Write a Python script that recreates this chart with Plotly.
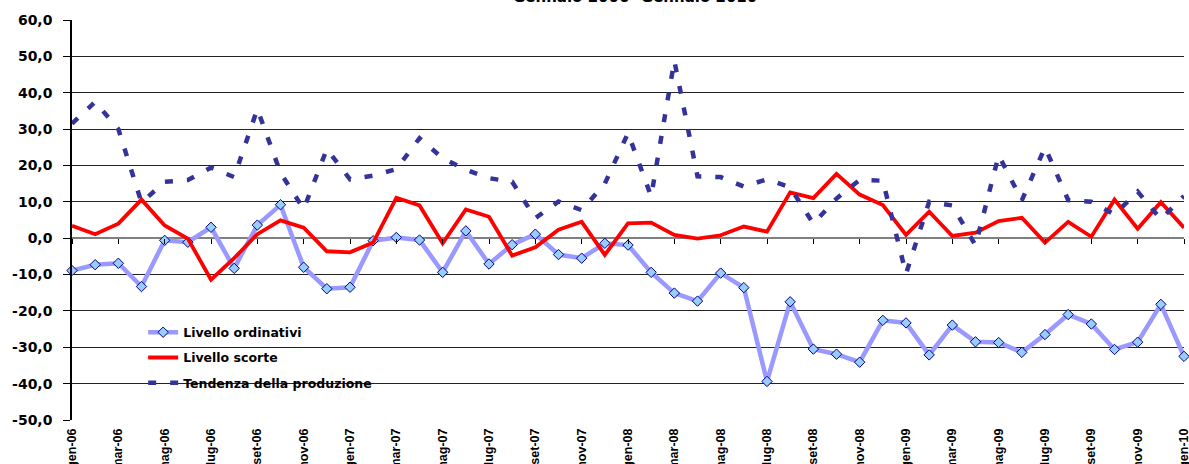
import plotly.graph_objects as go

# ---- data -------------------------------------------------------------
mesi = ["gen", "feb", "mar", "apr", "mag", "giu", "lug", "ago", "set", "ott", "nov", "dic"]
anni = ["06", "07", "08", "09", "10"]
categories = [f"{m}-{a}" for a in anni for m in mesi][:49]   # gen-06 ... gen-10

livello_ordinativi = [-8.9, -7.3, -6.9, -13.3, -0.6, -1.1, 3.0, -8.3, 3.6, 9.2,
                      -8.0, -13.9, -13.5, -0.7, 0.2, -0.5, -9.4, 2.0, -7.1, -1.8,
                      1.1, -4.5, -5.5, -1.4, -1.9, -9.4, -15.1, -17.3, -9.6, -13.6,
                      -39.4, -17.5, -30.5, -31.9, -34.1, -22.6, -23.3, -32.1, -23.9, -28.5,
                      -28.7, -31.4, -26.5, -21.0, -23.6, -30.6, -28.6, -18.2, -32.5]

livello_scorte = [3.4, 1.1, 4.0, 10.6, 3.5, -0.1, -11.4, -5.5, 1.1, 4.9,
                  2.9, -3.6, -3.9, -1.2, 11.1, 9.0, -1.4, 7.9, 5.9, -4.8,
                  -2.5, 2.3, 4.5, -4.6, 4.1, 4.3, 0.9, -0.1, 0.8, 3.2,
                  1.8, 12.6, 11.0, 17.7, 12.0, 9.1, 0.9, 7.3, 0.6, 1.5,
                  4.7, 5.6, -1.2, 4.5, 0.4, 10.6, 2.6, 9.9, 2.9]

tendenza_produzione = [31.5, 37.5, 30.0, 9.8, 15.5, 16.0, 19.4, 16.8, 35.5, 18.0,
                       8.0, 24.5, 16.2, 17.2, 19.0, 27.5, 22.0, 18.8, 16.5, 15.5,
                       5.5, 10.1, 7.7, 15.0, 28.9, 11.5, 48.8, 17.0, 16.8, 14.2,
                       16.2, 14.0, 4.0, 10.9, 16.0, 15.8, -9.8, 10.0, 9.0, -2.0,
                       22.8, 10.4, 25.0, 10.5, 10.0, 6.5, 12.8, 5.2, 11.6]

x_tickvals = categories[::2]
y_tickvals = [60, 50, 40, 30, 20, 10, 0, -10, -20, -30, -40, -50]
y_ticklabels = ["60,0", "50,0", "40,0", "30,0", "20,0", "10,0", "0,0",
                "-10,0", "-20,0", "-30,0", "-40,0", "-50,0"]

title_text = "Gennaio 2006- Gennaio 2010"

# ---- figure -----------------------------------------------------------
BOLD = "DejaVu Sans"

fig = go.Figure()

fig.add_trace(go.Scatter(
    x=categories, y=livello_ordinativi, name="Livello ordinativi",
    mode="lines+markers", legendgroup="a",
    line=dict(color="#9999FF", width=4.5),
    marker=dict(symbol="diamond", size=8, color="#99CCFF",
                line=dict(color="#000080", width=1)),
    cliponaxis=False,
))
fig.add_trace(go.Scatter(
    x=categories, y=livello_scorte, name="Livello scorte",
    mode="lines", legendgroup="b",
    line=dict(color="#FF0000", width=3.8),
    cliponaxis=False,
))
fig.add_trace(go.Scatter(
    x=categories, y=tendenza_produzione, name="Tendenza della produzione",
    mode="lines", legendgroup="c",
    line=dict(color="#333399", width=4.5, dash="8px,14px"),
    cliponaxis=False,
))
# invisible helper trace so the secondary (tick-mark) axis at y=0 renders
fig.add_trace(go.Scatter(
    x=categories, y=[None] * len(categories), xaxis="x2",
    mode="lines", showlegend=False, hoverinfo="skip",
))

fig.update_layout(
    width=1189, height=464,
    margin=dict(l=72, r=5, t=20, b=44),
    paper_bgcolor="white", plot_bgcolor="white",
    showlegend=True,
    legend=dict(
        x=0.064, y=0.256, xanchor="left", yanchor="top",
        bgcolor="rgba(255,255,255,0)",
        font=dict(family=BOLD, size=12.5, color="black", weight="bold"),
        tracegroupgap=6,
    ),
    xaxis=dict(
        type="category", range=[0, 48],
        tickmode="array", tickvals=x_tickvals, ticktext=x_tickvals,
        tickangle=-90, ticks="", showgrid=False, showline=False, zeroline=False,
        tickfont=dict(family="Liberation Sans", size=12.5, color="black", weight="bold"),
        ticklabelstandoff=5, automargin=False,
    ),
    xaxis2=dict(
        type="category", range=[0, 48], overlaying="x", anchor="free",
        position=50 / 110, side="bottom",
        tickmode="array", tickvals=x_tickvals, showticklabels=False,
        ticks="outside", ticklen=5, tickcolor="black", tickwidth=1,
        showgrid=False, showline=False, zeroline=False, automargin=False,
    ),
    yaxis=dict(
        range=[-50, 60], tickmode="array", tickvals=y_tickvals, ticktext=y_ticklabels,
        showgrid=True, gridcolor="#222222", gridwidth=1,
        zeroline=True, zerolinecolor="#808080", zerolinewidth=2,
        showline=True, linecolor="black", linewidth=1.5,
        ticks="outside", ticklen=7, tickcolor="black",
        tickfont=dict(family=BOLD, size=14, color="black", weight="bold"),
        ticklabelstandoff=8, automargin=False,
    ),
    shapes=[dict(
        type="rect", xref="paper", yref="y", x0=0.002, x1=0.324, y0=-48, y1=-22,
        fillcolor="white", line=dict(width=0), layer="between",
    )],
    annotations=[dict(
        text=title_text, xref="paper", yref="paper", x=0.506, y=1.03,
        xanchor="center", yanchor="bottom", showarrow=False,
        font=dict(family=BOLD, size=15, color="black", weight="bold"),
    )],
)

fig.write_html("out.html", config={"displayModeBar": False},
               post_script="document.body.style.margin='0';")
